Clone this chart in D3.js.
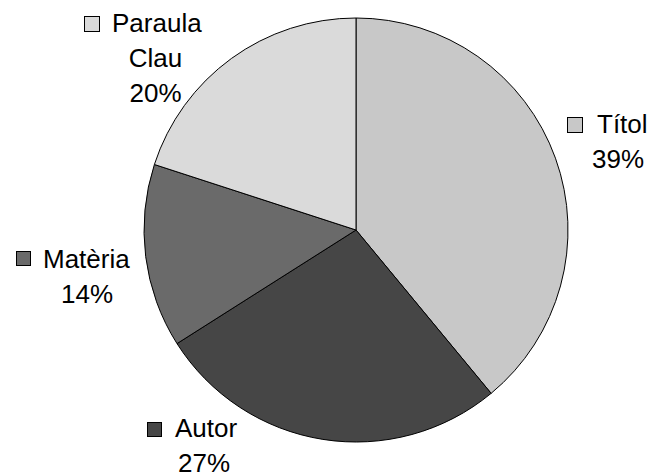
<!DOCTYPE html>
<html>
<head>
<meta charset="utf-8">
<script src="https://cdn.jsdelivr.net/npm/d3@7"></script>
<style>
  body { margin: 0; background: #fff; }
  text { font-family: "Liberation Sans", Arial, sans-serif; font-size: 26px; fill: #000; }
</style>
</head>
<body>
<svg id="chart"></svg>
<script>
// Data
var categories = ["Títol", "Autor", "Matèria", "Paraula Clau"];
var values = [39, 27, 14, 20];
var colors = ["#c8c8c8", "#464646", "#6a6a6a", "#dadada"];

// label layout (key square, name lines, percent)
var labelSpots = [
  { key: [567, 117, 16], nameX: 597, lines: ["Títol"], centerX: 618, baseY: 133 },
  { key: [147, 422, 15], nameX: 175, lines: ["Autor"], centerX: 204, baseY: 437 },
  { key: [16, 251, 15], nameX: 43, lines: ["Matèria"], centerX: 87, baseY: 268 },
  { key: [84, 16, 16], nameX: 112, lines: ["Paraula", "Clau"], centerX: 155.5, baseY: 32 }
];

var svgWidth = 650;
var svgHeight = 475;
var cx = 356, cy = 230, radius = 212;
var lineGap = 35;

var svg = d3.select("#chart")
  .attr("width", svgWidth)
  .attr("height", svgHeight);

var pie = d3.pie().sort(null).value(function (d) { return d; });
var arc = d3.arc().innerRadius(0).outerRadius(radius);

var chart = svg.append("g")
  .attr("transform", "translate(" + cx + "," + cy + ")");

chart.selectAll(".slice")
  .data(pie(values))
  .enter()
  .append("path")
  .attr("class", "slice")
  .attr("d", arc)
  .attr("fill", function (d, i) { return colors[i]; })
  .attr("stroke", "#000")
  .attr("stroke-width", 1)
  .attr("stroke-linejoin", "round");

// Labels
var labels = svg.selectAll(".lbl")
  .data(categories)
  .enter()
  .append("g")
  .attr("class", "lbl");

labels.each(function (name, i) {
  var g = d3.select(this);
  var s = labelSpots[i];
  g.append("rect")
    .attr("x", s.key[0] + 0.5)
    .attr("y", s.key[1] + 0.5)
    .attr("width", s.key[2] - 1)
    .attr("height", s.key[2] - 1)
    .attr("fill", colors[i])
    .attr("stroke", "#000")
    .attr("stroke-width", 1);
  g.append("text")
    .attr("x", s.nameX)
    .attr("y", s.baseY)
    .text(s.lines[0]);
  for (var k = 1; k < s.lines.length; k++) {
    g.append("text")
      .attr("x", s.centerX)
      .attr("y", s.baseY + lineGap * k)
      .attr("text-anchor", "middle")
      .text(s.lines[k]);
  }
  g.append("text")
    .attr("x", s.centerX)
    .attr("y", s.baseY + lineGap * s.lines.length)
    .attr("text-anchor", "middle")
    .text(values[i] + "%");
});
</script>
</body>
</html>
